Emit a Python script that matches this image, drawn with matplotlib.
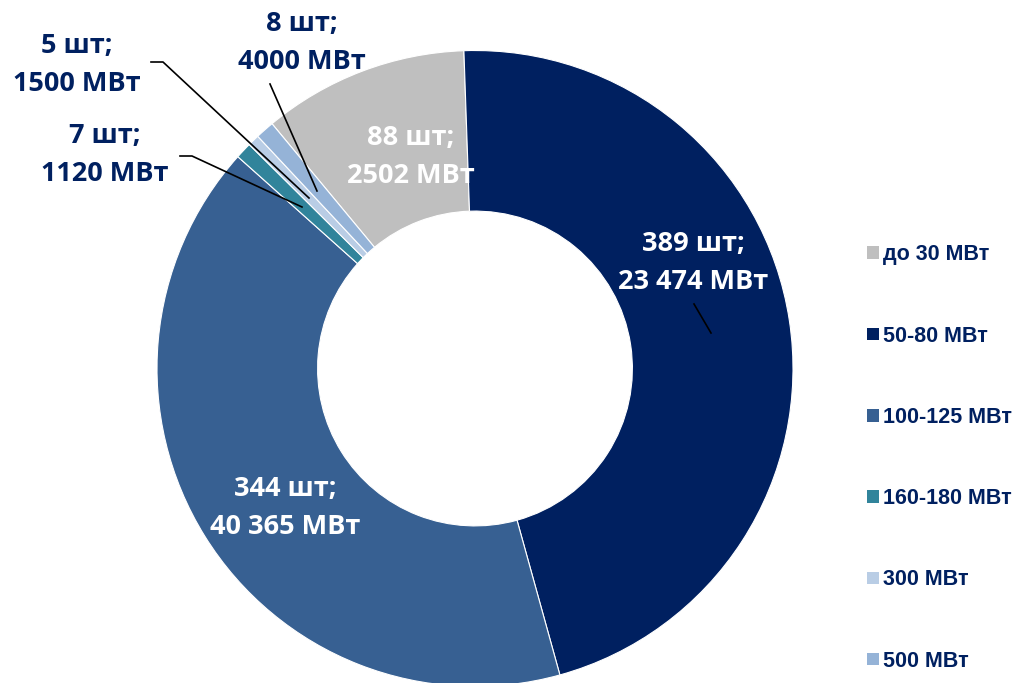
import matplotlib
matplotlib.use("Agg")
import matplotlib.pyplot as plt

categories = ["до 30 МВт", "50-80 МВт", "100-125 МВт", "160-180 МВт", "300 МВт", "500 МВт"]
counts = [88, 389, 344, 7, 5, 8]
power = ["2502", "23 474", "40 365", "1120", "1500", "4000"]
colors = ["#BFBFBF", "#002060", "#376092", "#31849B", "#B9CDE5", "#95B3D7"]

W, H = 1013, 683
fig = plt.figure(figsize=(W / 100, H / 100), dpi=100)
ax = fig.add_axes([0, 0, 1, 1])

cx, cy = 475, H - 368.5
R = 318
total = sum(counts)
start = 90 + 360 * counts[0] / total + 2.0

wedges, _ = ax.pie(counts, colors=colors, startangle=start, counterclock=False,
                   center=(cx, cy), radius=R, frame=True,
                   wedgeprops=dict(width=R * 0.505, edgecolor="white", linewidth=0.8))
ax.set_xlim(0, W)
ax.set_ylim(0, H)
ax.axis("off")

lab_font = dict(family=["Open Sans", "DejaVu Sans"], fontweight="bold", fontsize=19.5,
                ha="center", va="center", linespacing=1.56)

def P(x, y):
    return (x, H - y)

# inside labels
inside = {0: (411, 157), 1: (693, 263), 2: (285, 508)}
for i, (x, y) in inside.items():
    ax.text(*P(x, y), f"{counts[i]} шт;\n{power[i]} МВт", color="white", **lab_font)

# outside labels
outside = {5: (302, 43), 4: (77, 65), 3: (105, 155)}
for i, (x, y) in outside.items():
    ax.text(*P(x, y), f"{counts[i]} шт;\n{power[i]} МВт", color="#002060", **lab_font)

# leader lines
lines = [
    [(270, 84), (317, 191)],
    [(151, 62), (163, 62), (309, 198)],
    [(180, 156), (192, 156), (302, 207)],
    [(694, 304), (711, 333)],
]
for pts in lines:
    xs = [p[0] for p in pts]
    ys = [H - p[1] for p in pts]
    ax.plot(xs, ys, color="black", linewidth=1.2)

leg = ax.legend(wedges, categories, loc="upper left", bbox_to_anchor=(848 / W, 1 - 225 / H),
                frameon=False, handlelength=0.52, handleheight=0.52, handletextpad=0.2,
                labelspacing=2.8,
                prop=dict(family="Liberation Sans", weight="bold", size=15.5))
for t in leg.get_texts():
    t.set_color("#002060")
for h in leg.legend_handles:
    h.set_edgecolor("none")

fig.savefig("out.png", dpi=100)
